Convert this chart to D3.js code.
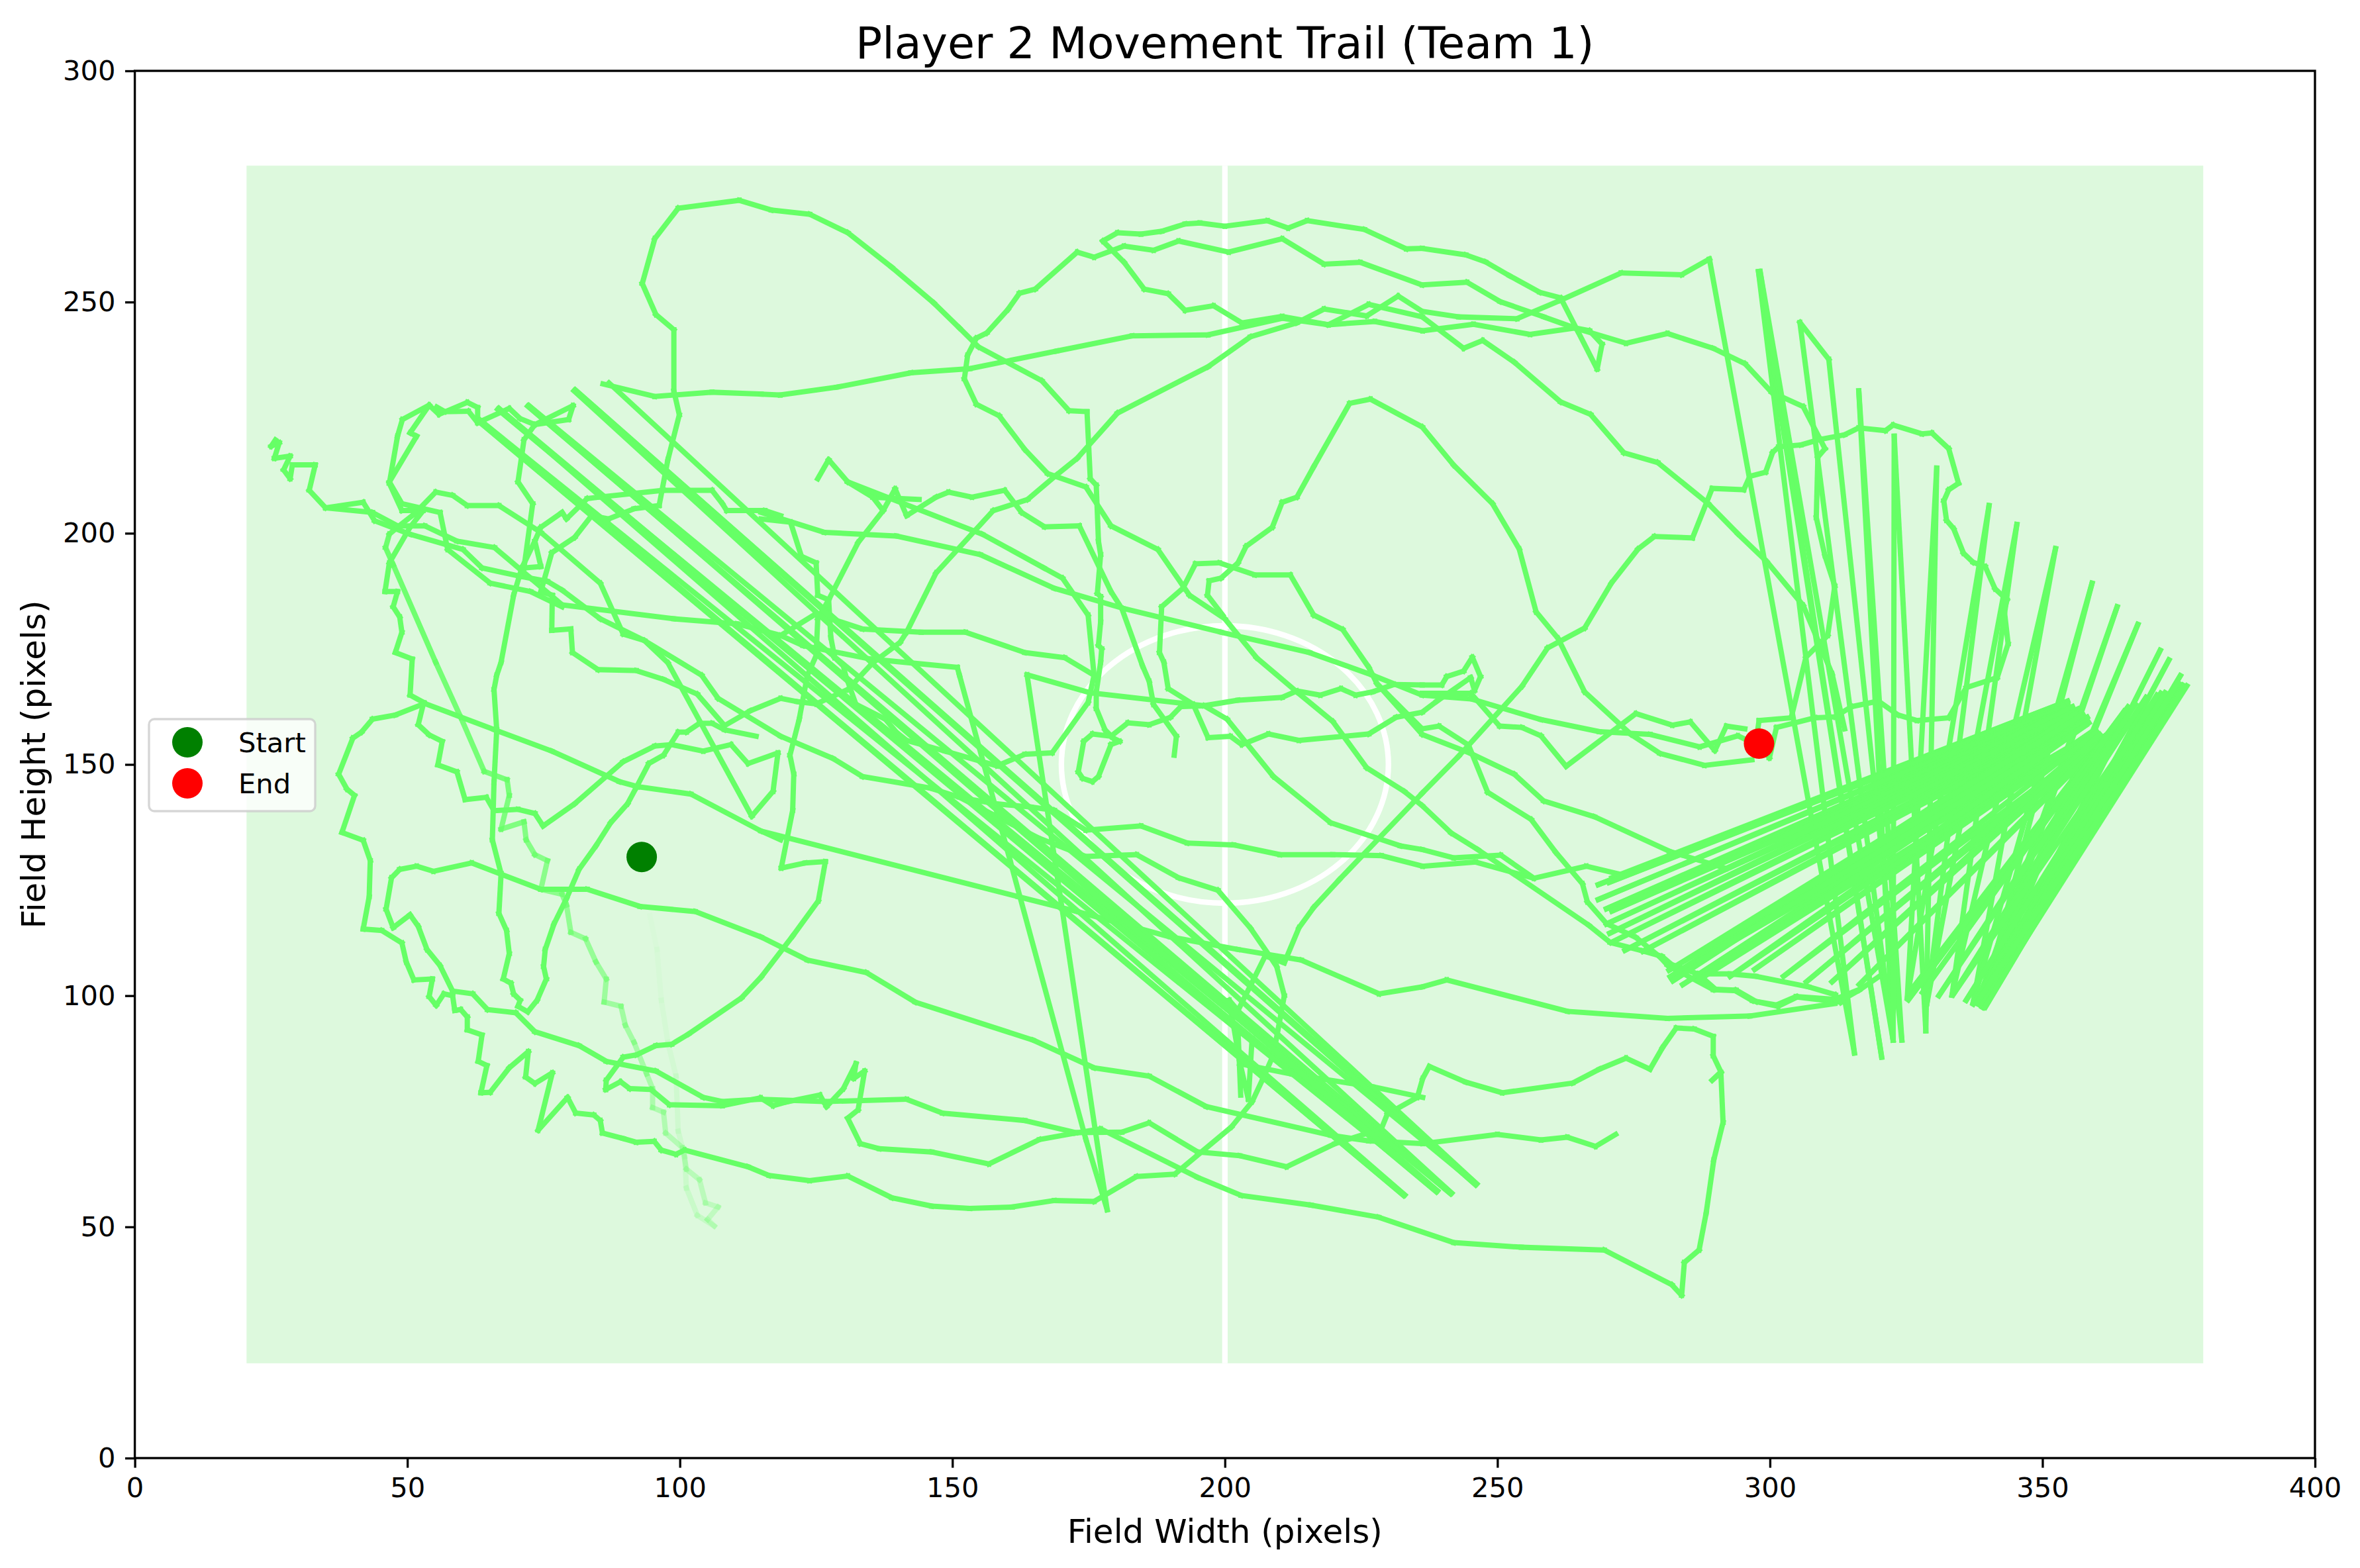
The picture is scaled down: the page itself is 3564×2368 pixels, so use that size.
<!DOCTYPE html>
<html>
<head>
<meta charset="utf-8">
<script src="https://cdnjs.cloudflare.com/ajax/libs/d3/7.8.5/d3.min.js"></script>
<style>
	html, body { margin: 0; padding: 0; background: #fff; }
	text { font-family: "DejaVu Sans", sans-serif; fill: #000; }
</style>
</head>
<body>
<div id="chart"></div>
<script>
// ----------------------------------
// DATA: the trail in field pixels, run by run
// ----------------------------------
const startPoint = [93, 130];
const endPoint = [298, 154.5];
const xTicks = [0, 50, 100, 150, 200, 250, 300, 350, 400];
const yTicks = [0, 50, 100, 150, 200, 250, 300];
const legendLabels = ['Start', 'End'];

const fadeRun = [[92.8,129.9],[94.5,117.3],[95.8,110],[96.6,99],[97.8,89.9],[99.3,82.6],[99.7,70.7],[100.9,65.2],[101.2,58.4],[103.2,52.5],[106.3,50.2],[105.1,51.6],[107,54.3],[104.7,55.2],[103.6,60.2],[101.2,62.5],[100.5,67.1],[97.4,70.3],[97,74.8],[95,75.8],[95,79.9],[93.9,83.1],[91.6,89.9],[90,93.6],[89.2,97.7],[86.1,98.6],[86.5,103.6],[84.6,107.3],[82.7,112.3],[80,113.7],[79.2,119.6],[78.4,121.9],[74.5,123],[75.7,129.2],[73.4,130.5],[71.8,133.7],[71.4,137.6],[67.2,136],[68.7,143.3],[68.3,146.7],[64.1,148.5],[59.8,160.2],[55.2,172.1],[47.4,193.2],[46,196.9],[46.7,199.8],[48.2,201.3],[51.3,204.2],[55.2,208.9],[58.3,208.2],[61,206],[66.8,206],[74.5,200.2],[85.4,189.2],[89.6,178.2],[93.5,176.8],[97.8,172],[113.2,138.8],[117.1,144.2],[118,152.5],[112.5,150.2],[109.4,154.3],[104.3,152.9],[98.5,154.3],[95.4,154],[89.6,150.6],[80.7,141.5],[74.9,136.7],[73.4,139.4],[70.3,140.3],[65.9,140],[64.5,142.9],[60.6,142.4],[59.1,148.4],[55.6,149.9],[56.4,155],[54,156.4],[52,158.6],[53,163.4],[50.5,165],[50.9,172.8],[47.8,174.2],[49,178.6],[48.6,181.9],[47.4,184.1],[48.2,187.4],[45.9,187.4],[46.7,193.6],[50.5,201.3],[52.9,204.9],[49,204.9],[46.7,210.8],[48.2,221],[49.1,224.6],[54,227.7],[55.8,225.7],[61,228.3],[62.9,227.2],[62.9,223.9]];

const leftLoop = [[54,227.7],[50.5,221.7],[51.7,221],[46.7,211.1],[49,206.4],[56,204.5],[57.4,196.5],[65.2,189.2],[72.6,187.4],[78.4,184.1]];
const leftCapRun = [[55.4,227.3],[56.9,226.3],[61.2,226.4],[62.9,223.9]];
const topLeftKnots = [[62.9,223.9],[68.7,227],[70.7,224.8],[73.4,223.5],[79.6,224.6],[80.4,227.6],[73.4,223.5],[71.4,220.2],[70.3,211.1],[73,206.4],[71.4,192.5],[74.5,192.8],[73.4,198.3]];
const farLeftRun = [[25.8,220.2],[25,218.8],[26.5,219.6],[25.6,216.2],[28.5,216.7],[27.3,213.7],[28.5,211.8],[28.9,214.8],[33.1,214.8],[32,209.3],[35,205.5],[41.9,206.7],[44,202.7],[50.5,199.8],[60.2,196.5],[63.7,192.5],[70.7,190.7],[75.7,189.6],[78.4,187.7],[85.4,181.5],[93.5,176.8],[104,169.3],[107,164.3],[118.5,156.1],[128.1,151.3],[133.5,147.4],[145.9,144.9],[151.3,142.9],[157.9,141.5],[164.4,140.8],[168.7,140.1],[174.5,135.8],[184.6,136.7],[193.1,133],[201.6,132.6],[210.1,130.5],[219.8,130.5],[228.7,130.3],[236.3,128],[246,128.9],[256.7,125.4],[266.3,128],[272.7,126.2]];
const farLeftBranch = [[35,205.5],[43.6,204.5],[48.2,201.6],[53.2,201.6],[59.1,198.3],[66,196.9],[72.6,190.3],[78.4,184.5],[98.9,181.5],[110.5,180.4],[118.5,177.9],[122.6,175.7],[135,172.8],[150.9,171],[151.3,169.3],[160.6,129.2],[174.5,68.9],[178.4,53.7]];

const topRun = [[85.9,232.3],[95.4,229.6],[105.9,230.5],[114.9,230.1],[118.4,229.9],[128.8,231.6],[142.4,234.7],[153.2,235.6],[169.1,239.4],[183,242.7],[196.9,242.9],[210.5,246.5],[219,245.1],[227.5,245.8],[236.3,243.8],[245.6,245.2],[256,243],[264.2,244.4],[273.6,241.1],[281.2,243.2],[289.6,240],[295.4,236.7],[300.3,230.5],[306.1,227.4],[310.1,218.3],[308.8,216.5],[308.5,203.4],[310.1,195.1],[311.9,188.6],[310.6,177.9],[306.6,173.2],[303.9,160.1],[298,159.5],[297.4,154.5]];
const domeRun = [[93.1,254],[95.4,263.7],[99.7,270.3],[110.9,272],[116.8,269.9],[123.8,269],[130.8,265],[138.9,257.5],[146.6,249.8],[151.3,244.4],[154.8,240.3],[166.4,233],[171.4,226.5],[174.7,226.3],[175.3,211.8],[176.4,210.4],[176.8,198.3],[177.2,195.4],[176.6,187],[177.2,186.3],[177.2,180.8],[176.8,175.8],[177.4,175],[177.2,172.1],[176.4,165.7],[176.4,162.1],[178,157.5],[179.5,155.7],[180.7,155],[179.1,154.3],[176.8,147.4],[175.7,146.3],[173.9,147],[173.1,148.4],[174.1,155],[175.7,156.6],[179.1,156.1],[182.2,159],[186.1,158.6],[190,160.2],[191.9,162.5],[196.2,162.7],[202.4,163.9],[210.5,164.5],[213.2,165.9],[217.5,165],[221.3,166.4],[224,165],[227.1,165.7],[231,167.3],[236.2,167.2],[239.8,167.2],[240.7,169],[243.8,170.2],[245.4,173.2],[246.9,169],[245.8,166],[245.1,168.8],[238.9,163.7],[236.2,161.3],[231.4,160.2],[226.4,156.6],[213.6,155.2],[208,156.6],[203.1,154.3],[201,156.1],[196.9,155.8],[194.2,163],[189.6,166.4],[188.8,172.1],[188,174.2],[188.4,184.1],[192.3,188.1],[194.6,193.4],[199,193.6],[205.5,191],[212,191],[216.3,182.3],[221.6,179.2],[226.4,171],[227.9,167.5],[236.2,157.7]];
const domeFoot = [[93.1,254],[95.6,247.3],[98.9,244],[98.9,230.8],[99.9,225.6],[97.8,215.9],[96.2,206],[91.6,205.3],[86.9,203.1],[83.8,203.8],[80.7,199.1],[76.5,195.8],[74.5,187.4],[76.6,186.6],[76.5,179],[80,179.3],[80.3,174.2],[85,170.5],[92,170.3],[97,168.4],[103.2,165.2],[108.2,158.4],[112.9,161.6],[118.5,164.3],[121.5,163.6],[125,163.1],[130.8,166.2],[135.4,172],[140.4,176.4],[141.6,178.6],[147,191.4],[157.5,204.9],[163.8,207.3],[169.1,212.6],[172.9,216.2],[180.3,226],[196.9,236],[204.7,242.5],[213.2,245.5],[218.2,248.5],[226,247],[231.8,251.3],[236.2,248],[242.9,246.8],[253.6,246.4],[261.6,250.4],[272.7,256.3],[283.8,255.9],[288.9,259.3]];

const upperCrossA = [[177.6,263.2],[180.3,265],[184.6,264.7],[188.4,265.3],[192.7,266.9],[195.4,267.1],[200,266.4],[207.8,267.6],[211.6,266],[215.1,267.6],[225.6,265.7],[233.3,261.5],[236.2,261.6],[244.2,260.2],[247.8,258.7],[252.2,255.7],[257.8,252.1],[261.6,250.9],[264.7,243.8],[268.3,235.5],[269.2,240.9],[266.9,243.8],[264.2,244.4]];
const upperCrossB = [[176,259.7],[172.9,260.8],[165.2,252.8],[162.3,251.9],[160.2,248.4],[156.3,243.3],[154.4,242.2],[152.8,238.5],[152.2,233.4],[154.4,227.9],[158.6,225.4],[163.3,218.1],[167.5,212.9],[174.5,210],[179.1,201.6],[187.7,196.5],[193.5,186.6],[200,181.5],[205.8,173.1],[213.2,165.7],[219.8,159.3],[226,149.3],[232.9,144.2],[236.2,141.1],[241.5,135.2],[246.4,131.6],[266.8,115.2],[270.7,111.5],[276.6,109.7],[280.2,108.5],[282,106.7],[286.8,104.7],[290,101.4],[293.8,101.2],[297.5,98.7],[301.5,97.7],[305,99.7],[312.2,98.7],[313.4,99.2],[316.4,101.2],[320.1,104.2]];
const upperCrossC = [[176,259.7],[181.5,262.1],[186.9,261.2],[191.5,263.2],[200.7,260.8],[210.5,263.7],[218.2,258.2],[224.8,258.6],[236.2,253.7],[244.4,254.3],[250.5,250.1],[258.5,246.8],[264.2,244.4]];
const upperCrossD = [[177.6,263.2],[181.5,258.6],[185.2,252.8],[189.6,251.8],[192.7,248.2],[197.9,249.2],[203.1,245.5],[210.5,246.9],[219,245.1],[226.4,249.5],[236.2,246.8],[243.8,240],[247.3,241.7],[253.1,237],[261.6,228.4],[267.1,225.7],[273.2,217.4],[279.4,215.3],[288.7,206.4],[294.1,199.9],[299.4,193.9],[306.1,184.4],[311.4,169.6],[313.7,157.7]];

const peakRun = [[199.6,182.3],[196.8,186.6],[197.1,189.7],[199.3,190.3],[202.4,193.6],[203.9,197.2],[208.7,201.3],[210.5,206.7],[213.2,207.8],[216.3,214.4],[222.9,228.1],[226.7,229],[236.2,223],[242,214.7],[249.1,206.4],[254,196.6],[257.1,183],[261.1,177.3],[266,165.7],[274.5,156.5],[279.8,152.4],[288,149.8],[296.7,151]];
const rightLoop = [[200.8,99],[202.4,96.8],[204.7,102.2],[207.4,108.6],[210.9,107.1],[213.6,114.7],[216.3,119.1],[221,125.1],[236.2,143.8],[242.9,151.8],[254.5,166.9],[259.2,175.2],[266,179.5],[270.9,189.2],[275.8,196.6],[278.8,199.3],[285.8,199],[289.4,209.7],[295.2,209.4],[296.3,212.3],[299.2,213.2],[300.5,217.5],[301.6,218.7],[305.7,219.1],[309.2,220.3],[313.7,221.3],[316.3,222.8],[321.2,222.2],[322.6,223.4],[327.9,221.5],[329.7,221.7],[332.8,218.3],[334.6,210.8],[332.8,209.4],[331.9,207],[332.4,202.8],[333.7,201],[335.5,195.7],[337.3,193.7],[339.5,192.8],[341.3,188],[343.5,185.6],[343,183.3],[343.7,176.1],[341.7,168.8],[336,166.6],[332.8,160.1],[327,159.5],[323.5,160.7],[319.9,163.7],[315,162.5],[311.9,160.3],[308.3,160.1],[301.2,158],[299.9,151.4],[298,154.5]];
const dotStrandA = [[236.2,165.4],[245.1,165.4],[250.4,158.3],[254.5,158],[258,156.2],[262.6,149.6],[275.4,161],[282.1,158.5],[285.4,159.2],[289.9,153],[292,158.3],[295.4,157.7]];
const dotStrandB = [[215.5,174.2],[227.1,169.3],[236.2,165],[245.1,164.2],[258,159.7],[268.7,157.1],[278,156.5],[287.1,153.8],[294.1,156.2],[296.8,154.7]];
const longMidStrand = [[114.9,204.5],[126.5,200.2],[139.7,199.4],[155.1,195.4],[168.7,188.1],[181.5,183.7],[199.3,178.6],[215.5,174.2]];
const shortMidStrand = [[114.9,203.1],[120.3,202.4],[122.3,195],[125,193.6],[125.3,186.6],[127.3,185.6],[127.7,177.5],[128.4,173.1],[130,171.3],[130.4,169.3]];
const peakFoot = [[118.5,177.9],[125,182.6],[133.5,179.3],[144.3,178.6],[152.4,178.6],[163.3,174.2],[170.6,173.1],[176,169.3]];

const centerCrossA = [[125.3,211.8],[127.3,215.9],[130.8,211.1],[134.6,209],[137.3,204.9],[132.7,198],[127.3,185.6],[125.3,181.5],[125,173.5],[123.4,169.3],[121.9,159.8],[120.2,152],[120.9,147.9],[120.7,140.1],[118.6,127.6],[123,128.7],[126.7,129],[125.4,120.5],[120.7,112.9],[114.9,104],[111.3,99.5],[101.6,91.7],[98.5,89.5],[95.6,89.2],[92,87.2],[89.6,86.7],[86.5,81.7],[86.4,79.7],[89.1,81.4],[90.8,79.9],[94.7,79.7],[98.1,76.4],[107.8,76.2],[114.8,77.9],[117.1,76.2],[119.5,77],[125.7,78.5],[126.9,76],[130,79.9],[132.3,85.3],[131.9,82.1],[133.9,83.7],[132.7,75.3],[130.8,73.5],[133.1,68],[136.6,66.9],[146.2,66.2],[156.7,63.6],[166,68.9],[172.6,70.3],[177.2,71.2],[195,60.7],[203,56.8],[215.8,54.7],[228.2,52.1],[242,46.6],[254.4,45.6],[269.6,45],[282,37.5],[283.8,35.2],[284.3,42.3],[287,45],[288.3,53],[289.7,64.5],[291.4,72.6],[291,83.4],[289.4,81.7],[291,83.5],[289.6,87],[289.6,91.2],[286.1,92.8],[282.8,93],[280.3,88.8],[278,84.1],[273.6,86.5],[268.7,84.1],[263.8,81.1],[250.9,79],[244.2,81.3],[237.5,84.7],[236.3,82.1],[235.3,78],[229.8,74.4],[228.7,71.2],[220.2,68],[211.3,63],[202.7,65.4],[195,66.2],[186.1,72.5],[181.1,70.5],[172.6,70.4],[163.3,73],[148.2,74.6],[141.6,77.6],[126.5,77.1],[114.8,77.6],[107.8,77.1],[104.3,78],[95.6,83.7],[86.5,85.8],[81.5,89.2],[73.4,92.2],[69.9,96.3],[64.7,97],[62,100.4],[58.3,101],[56,106.5],[53.6,110],[52,115],[50.5,117.5],[47.4,114.7],[46.1,118.7],[47.1,125.5],[48.6,127.3],[51.7,128],[54.8,126.9],[61.8,128.7],[74.5,123],[83,123],[92.7,119.3],[102.8,118.2],[114.9,112.7],[123.4,107.7],[134.2,105],[143.2,98.6],[164.8,90.4],[176,84.4],[186.1,82.6],[196.6,76],[219.4,69.8],[226.4,68.6],[236.3,68],[250,70],[258,68.8],[262.8,69.4],[268,67.4],[271.7,70]];
const outerWestRun = [[118.5,133.7],[114.9,135.6],[102,143.6],[92.3,145.2],[88.9,146.3],[76.5,152.9],[66,157.5],[53.2,163.2],[47.8,160.7],[43.6,159.8],[41.6,157],[40,155.7],[37.4,147.9],[38.9,144.7],[40.3,143.3],[38,135.3],[41.9,133.6],[43.2,129.2],[43,121.4],[41.9,114.4],[45.3,114.1],[49,111.4],[49.8,107.3],[51.2,103.4],[54.6,103.6],[54,99.8],[55.3,97.9],[56.7,100.4],[58.3,100],[58.7,96.8],[59.8,97],[61,95.4],[61,92.6],[63.7,91.5],[63,85.8],[64.6,84.9],[63.5,79],[65.2,79.1],[68.7,84.4],[72.2,87.9],[71.7,82.4],[73.4,81],[76.6,83.3],[74,70.9],[79.4,78],[80.9,74.6],[84.2,74.2],[85.4,73],[85.8,70.3],[89.6,69.1],[92,68.3],[95.3,68.5],[96.6,66.6],[99.3,65.7],[100.9,66.6],[112.5,63],[116.4,61.1],[123.8,60],[130.8,61],[138.9,56.3],[146.2,54.5],[153.2,54],[161,54.3],[168.7,55.7],[176,55.5],[183.8,60.9],[190.8,61.4],[201.2,71.6],[205,77.1],[207,82.1],[208.9,87.2],[210.9,100],[209.5,106.3],[208.2,108.6],[204.7,114.6],[198.7,122.8],[191.5,125.5],[183.8,130.5],[174.5,130.1],[165.6,134.2],[151.3,142.9]];
const midWestRun = [[114.9,135.6],[162.1,121.4],[172.9,118.2],[190,112.7],[202.4,110],[214,107.7],[228.3,100.4],[236.2,101.9],[240.7,103.4],[262.9,96.6],[281.2,95.1],[296.3,95.6],[311.9,98.3]];
const westColumn = [[67.2,172.1],[66.4,169.3],[65.9,166.2],[66.4,157.5],[65.9,146.1],[65.6,133.7],[67.2,126.4],[66.8,117.8],[68.2,114.1],[68.7,109.1],[67.6,103.6],[69,102.7],[69.5,100.4],[70.7,99],[70.3,97.7],[72.1,96.5],[73.8,99],[75.5,103.6],[75,106.3],[75.3,110],[76.9,115.5],[79.2,121],[81.5,127.3],[84.6,132.4],[87.3,137.4],[90.4,141.5],[92,145],[94.3,150.2],[97,152],[99.7,157],[101.2,157],[103.6,158.9],[105.9,158.9],[108.2,157.5],[114,156.1]];
const westColumnTop = [[67.2,172.1],[69.5,186.6],[71,192.5],[73.4,198.3],[74.5,201.3],[78.4,204.5],[79.2,203.1],[83,207.5],[85,207.8],[97,209.3],[105.9,209.3],[107.8,206.4],[108.6,204.9],[115.6,204.9],[118.5,203.8]];
const ringEndRun = [[173.3,201.6],[166.9,201.4],[162.7,204.5],[159.6,209.3],[153.6,207.8],[149.3,208.9],[147,207.8],[141.6,203.8],[139.5,209.6],[137.3,204.9]];
const ringEndTail = [[173.3,201.6],[179.1,187.4],[181.1,183.7],[184.9,171.3],[186.1,168],[186.9,163],[191.1,156.1],[190.7,152]];
const sideStrand = [[143.9,207.3],[135.4,207.8],[130.8,211.1],[155.5,199.8],[166.8,192.5],[170.2,190.3],[174.9,182.3],[176,169.3],[174.9,163.4],[168.3,152.5],[163.3,152.2],[158.2,149.7],[148.6,152.9],[141.6,155.2],[139.7,157],[137.7,159.8],[132.3,163],[130.4,169.3]];
const vShapeRun = [[163.7,169.4],[178.4,53.7]];
const ringTopRun = [[163.7,169.4],[175.3,165.5],[196.2,162.7],[200.4,159.8],[208.9,147.4],[219.4,137.4],[232.2,132.4],[236.2,131.6],[242,129.8],[250.6,130.4],[256.7,125.4]];
const lowerEastA = [[236.2,157.7],[239.3,158.3],[244.7,154.2],[248.2,144],[256.2,138.1],[260.7,131],[265.6,124.2],[266.5,120.3],[270,115.6],[275.4,112.6],[279.8,108.4],[281.2,106.6],[289.6,101.3],[293.6,101.1],[296.8,98.9],[301.2,98],[304.8,99.8],[311.9,99.2],[316.3,101.3]];
const lowerEastB = [[227.9,167.5],[236.2,156.5],[245.1,152.4],[253.1,147.9],[258.5,142.1],[267.8,138.7],[281.6,131.2],[292,127.5]];
const lowerEastC = [[286.8,104.7],[292.7,104.7],[297.4,104.2],[307.1,101.9],[312,100.2],[313,98.5]];
const bandStrand = [[202.7,85.3],[212.4,83],[227.1,80.3],[236.3,78]];
const smallLoopRun = [[202.9,78.5],[202.4,92.6],[205,90.8],[204.3,77.6],[202.7,85.8],[200.8,99]];

const diagonalRun = [[87,232.5],[246.2,59.3],[80.8,231],[246,59.1],[80.6,230.8],[241.6,57.3],[72.1,227.5],[241.4,57.2],[66.6,226.8],[238.8,57.6],[66.8,227],[233,56.9],[63.1,224.2],[232.8,56.8],[63.4,224.4],[239,57.8],[72.3,227.6],[246,59.3]];
const steepFanRun = [[288.9,259.3],[315.5,87.6],[297.9,256.6],[320.5,86.7],[298.2,256.6],[322.6,90.4],[305.5,245.6],[310.8,237.6],[324.2,90.4],[316.3,230.8],[322.6,90.4],[322.8,221],[328.6,92.4],[330.6,214.1],[325.2,99.5],[340.2,206],[328.8,98.3],[345.3,201.9],[333.4,100.1],[352.4,196.7],[337.3,98.6],[359.1,189.2],[338.9,97.8],[363.7,184.1],[338,98.3],[367.5,180.3],[339,97.6],[371.6,174.7],[338.9,98],[373.2,172.6],[339.5,98],[375.3,169.2],[339,97.5],[376.5,167]];
const flatFanRun = [[271,125.5],[354.6,163.7],[268.5,124],[353.5,163],[270.5,124.5],[354.6,163.2],[268.5,120.8],[354,162.5],[270,118.8],[355.5,162.5],[271,118.3],[356.5,162],[270,115.5],[355,162],[270.6,113.5],[356,161.5],[271.4,111.8],[357,161],[273.4,109.8],[357.5,160.6],[276.7,109.6],[358.2,160.2],[281.7,104.1],[356,161],[282.2,103.2],[357,160.5],[281.5,105.5],[358.2,159.5],[284,102.4],[358.5,159],[286.9,103.4],[359.6,157],[286.9,107.4],[358,158.5],[292.7,104.2],[359.6,157.5],[297.2,105.7],[360,157],[302.5,104.2],[361.4,156.1],[306.7,103],[360.5,156.5],[311.4,103],[361.4,156],[316.4,102.4],[362,156],[325.5,100.6],[365.7,162.4],[325.4,99.1],[365,161.5],[328,100.7],[365.7,162.4],[331,100],[367,163],[334,101],[369,164.5],[333.7,100.4],[371.7,165.4],[336,99],[371,165],[337.3,98.2],[372.5,165.5],[339.2,97.5],[375.8,167.1],[338.5,98],[375,167.5],[339.5,97.5],[374.5,167],[338,98.5],[376,166.5]];

const trailRuns = [fadeRun, leftLoop, leftCapRun, topLeftKnots, farLeftRun, farLeftBranch, topRun, domeRun, domeFoot, upperCrossA, upperCrossB, upperCrossC, upperCrossD, peakRun, rightLoop, dotStrandA, dotStrandB, longMidStrand, shortMidStrand, peakFoot, centerCrossA, outerWestRun, midWestRun, westColumn, westColumnTop, ringEndRun, ringEndTail, sideStrand, vShapeRun, ringTopRun, lowerEastA, lowerEastB, lowerEastC, bandStrand, smallLoopRun, diagonalRun, steepFanRun, flatFanRun];

// ----------------------------------
// SIZES
// ----------------------------------
const width = 3564, height = 2368;
const margin = {left: 203.6, right: 68, top: 107, bottom: 166};
const fontTick = 41.67, fontLabel = 50, fontTitle = 66.67;

const svg = d3.select('#chart').append('svg')
	.attr('width', width)
	.attr('height', height)
	.style('display', 'block');

svg.append('rect').attr('width', width).attr('height', height).attr('fill', '#fff');

const xScale = d3.scaleLinear().domain([0, 400]).range([margin.left, width - margin.right]);
const yScale = d3.scaleLinear().domain([0, 300]).range([height - margin.bottom, margin.top]);

// ----------------------------------
// THE FIELD
// ----------------------------------
svg.append('rect')
	.attr('x', xScale(20.5))
	.attr('y', yScale(279.5))
	.attr('width', xScale(379.5) - xScale(20.5))
	.attr('height', yScale(20.5) - yScale(279.5))
	.attr('fill', '#ddf9dd');

svg.append('line')
	.attr('x1', xScale(200)).attr('x2', xScale(200))
	.attr('y1', yScale(20.5)).attr('y2', yScale(279.5))
	.attr('stroke', '#fff').attr('stroke-width', 8.33);

svg.append('ellipse')
	.attr('cx', xScale(200)).attr('cy', yScale(150))
	.attr('rx', xScale(230) - xScale(200))
	.attr('ry', yScale(120) - yScale(150))
	.attr('fill', 'none').attr('stroke', '#fff').attr('stroke-width', 8.33);

// ----------------------------------
// THE TRAIL: one line per step, so the first steps can fade in
// ----------------------------------
const steps = [];
trailRuns.forEach(run => {
	d3.pairs(run).forEach(pair => steps.push(pair));
});

svg.append('g')
	.selectAll('line')
	.data(steps)
	.enter()
	.append('line')
	.attr('x1', d => xScale(d[0][0]))
	.attr('y1', d => yScale(d[0][1]))
	.attr('x2', d => xScale(d[1][0]))
	.attr('y2', d => yScale(d[1][1]))
	.attr('stroke', '#66ff66')
	.attr('stroke-width', 8)
	.attr('stroke-linecap', 'square')
	.attr('stroke-opacity', (d, i) => Math.min(1, i / 46));

svg.append('circle')
	.attr('cx', xScale(startPoint[0])).attr('cy', yScale(startPoint[1]))
	.attr('r', 23).attr('fill', '#008000');

svg.append('circle')
	.attr('cx', xScale(endPoint[0])).attr('cy', yScale(endPoint[1]))
	.attr('r', 23).attr('fill', '#ff0000');

// ----------------------------------
// AXES
// ----------------------------------
const xAxis = svg.append('g')
	.attr('transform', `translate(0, ${height - margin.bottom})`)
	.call(d3.axisBottom(xScale).tickValues(xTicks).tickSize(14.6).tickPadding(14.6));

const yAxis = svg.append('g')
	.attr('transform', `translate(${margin.left}, 0)`)
	.call(d3.axisLeft(yScale).tickValues(yTicks).tickSize(14.6).tickPadding(14.6));

[xAxis, yAxis].forEach(axis => {
	axis.selectAll('text').style('font-size', fontTick + 'px').style('font-family', '"DejaVu Sans"');
	axis.selectAll('line').attr('stroke', '#000').attr('stroke-width', 3.33);
	axis.select('.domain').remove();
});

svg.append('rect')
	.attr('x', margin.left).attr('y', margin.top)
	.attr('width', width - margin.left - margin.right)
	.attr('height', height - margin.top - margin.bottom)
	.attr('fill', 'none').attr('stroke', '#000').attr('stroke-width', 3.33);

svg.append('text')
	.attr('x', (margin.left + width - margin.right) / 2).attr('y', 88)
	.attr('text-anchor', 'middle').style('font-size', fontTitle + 'px')
	.text('Player 2 Movement Trail (Team 1)');

svg.append('text')
	.attr('x', (margin.left + width - margin.right) / 2).attr('y', 2330)
	.attr('text-anchor', 'middle').style('font-size', fontLabel + 'px')
	.text('Field Width (pixels)');

svg.append('text')
	.attr('transform', `translate(68, ${(margin.top + height - margin.bottom) / 2}) rotate(-90)`)
	.attr('text-anchor', 'middle').style('font-size', fontLabel + 'px')
	.text('Field Height (pixels)');

// ----------------------------------
// LEGEND
// ----------------------------------
const legend = svg.append('g').attr('transform', 'translate(225, 1086)');
const legendColors = ['#008000', '#ff0000'];

legend.append('rect')
	.attr('width', 251).attr('height', 139).attr('rx', 8)
	.attr('fill', '#fff').attr('fill-opacity', 0.8)
	.attr('stroke', '#ccc').attr('stroke-opacity', 0.8).attr('stroke-width', 3.33);

legend.selectAll('circle')
	.data(legendLabels)
	.enter()
	.append('circle')
	.attr('cx', 58)
	.attr('cy', (d, i) => 35 + i * 62)
	.attr('r', 23)
	.attr('fill', (d, i) => legendColors[i]);

legend.selectAll('text')
	.data(legendLabels)
	.enter()
	.append('text')
	.attr('x', 135)
	.attr('y', (d, i) => 50 + i * 62)
	.style('font-size', fontTick + 'px')
	.text(d => d);
</script>
</body>
</html>
